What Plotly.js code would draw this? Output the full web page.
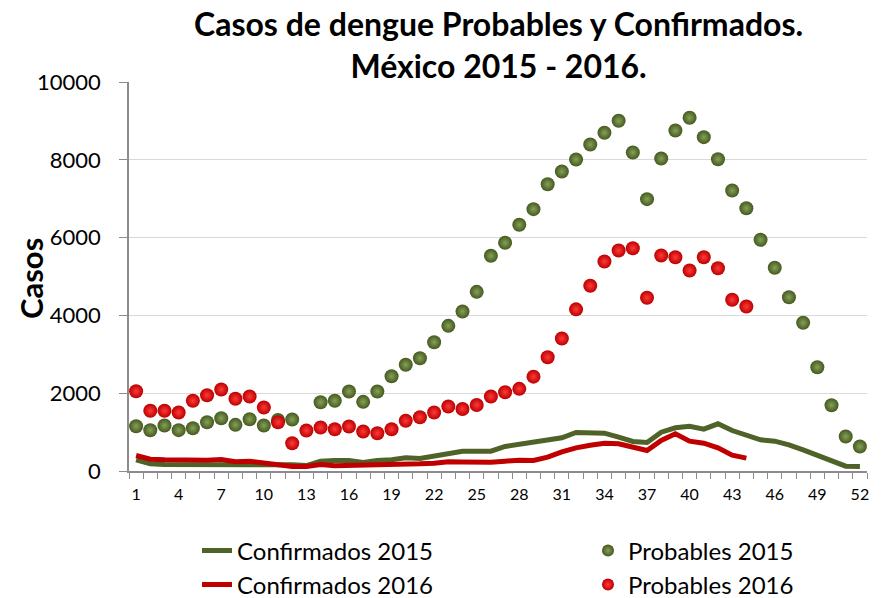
<!DOCTYPE html>
<html>
<head>
<meta charset="utf-8">
<script src="https://cdn.plot.ly/plotly-3.0.1.min.js"></script>
<style>html,body{margin:0;padding:0;background:#fff;}#chart{width:881px;height:598px;}</style>
</head>
<body>
<div id="chart"></div>
<script>
// Semanas epidemiológicas 1..52
const semanas = Array.from({length: 52}, (_, i) => i + 1);
const tickSemanas = [1,4,7,10,13,16,19,22,25,28,31,34,37,40,43,46,49,52];
const tickCasos = [0, 2000, 4000, 6000, 8000, 10000];

const confirmados2015 = [288,185,167,167,160,167,185,176,176,176,185,159,141,252,270,270,218,270,288,339,
  321,373,442,509,505,509,630,681,733,784,853,990,972,972,870,758,733,998,1110,1152,
  1075,1213,1041,938,802,767,673,544,398,270,124,116];

const probables2015 = [1152,1049,1170,1050,1100,1255,1357,1187,1332,1170,1310,1323,null,1769,1804,2044,1778,2044,2437,2730,
  2900,3311,3732,4100,4606,5532,5866,6329,6731,7373,7699,8008,8393,8694,9002,8188,6988,8033,8753,9080,
  8582,8016,7211,6756,5943,5224,4468,3810,2669,1692,887,630];

const confirmados2016 = [398,304,288,279,270,279,296,236,253,210,167,116,116,167,133,141,141,141,159,150,
  185,202,236,230,227,227,253,279,270,356,493,596,664,715,698,596,527,784,955,767,
  715,596,407,330];

const probables2016 = [2050,1547,1547,1504,1804,1949,2095,1856,1915,1632,1255,715,1041,1118,1075,1144,1015,972,1075,1290,
  1383,1504,1658,1595,1697,1915,2026,2112,2425,2926,3406,4156,4761,5386,5668,5728,4452,5540,5496,5154,
  5496,5213,4401,4229];

const titulo1 = 'Casos de dengue Probables y Confirmados.';
const titulo2 = 'México 2015 - 2016.';
const tituloY = 'Casos';

const verde = '#4f6228';
const rojo = '#c00000';
const FONT = 'Lato, Calibri, sans-serif';

const traces = [
  {x: semanas.slice(0, confirmados2015.length), y: confirmados2015, name: 'Confirmados 2015', type: 'scatter', mode: 'lines',
   line: {color: verde, width: 5}, legend: 'legend'},
  {x: semanas.slice(0, probables2015.length), y: probables2015, name: 'Probables 2015', type: 'scatter', mode: 'markers',
   marker: {color: '#45591f', size: 14, line: {width: 0}, gradient: {type: 'radial', color: '#86a058'}}, legend: 'legend2'},
  {x: semanas.slice(0, confirmados2016.length), y: confirmados2016, name: 'Confirmados 2016', type: 'scatter', mode: 'lines',
   line: {color: rojo, width: 5}, legend: 'legend3'},
  {x: semanas.slice(0, probables2016.length), y: probables2016, name: 'Probables 2016', type: 'scatter', mode: 'markers',
   marker: {color: '#bb0000', size: 14, line: {width: 0}, gradient: {type: 'radial', color: '#ff3a3a'}}, legend: 'legend4'}
];

function leg(xpx, ypx) {
  return {x: xpx / 881, xref: 'container', xanchor: 'left', y: 1 - ypx / 598, yref: 'container', yanchor: 'middle',
          font: {size: 24, family: FONT, color: '#000'}, bgcolor: 'rgba(0,0,0,0)', borderwidth: 0,
          itemsizing: 'constant'};
}

const layout = {
  width: 881, height: 598,
  margin: {l: 129, r: 14, t: 82, b: 127, autoexpand: false},
  paper_bgcolor: '#ffffff', plot_bgcolor: '#ffffff',
  font: {family: FONT, color: '#000'},
  xaxis: {
    range: [0.5, 52.5], tickmode: 'array', tickvals: tickSemanas, ticktext: tickSemanas.map(String),
    ticks: '', showgrid: false, zeroline: false, showline: true, linecolor: '#8c8c8c', linewidth: 1.5,
    tickfont: {size: 16}, ticklabelstandoff: 8, automargin: false, tickangle: 0,
    minor: {ticks: 'outside', tickmode: 'linear', tick0: 0.5, dtick: 1, ticklen: 6, tickcolor: '#8c8c8c', tickwidth: 1, showgrid: false}
  },
  yaxis: {
    range: [0, 10000], tickmode: 'array', tickvals: tickCasos, ticktext: tickCasos.map(String),
    ticks: 'outside', ticklen: 8, tickcolor: '#8c8c8c', tickwidth: 1,
    showline: true, linecolor: '#8c8c8c', linewidth: 1.5, zeroline: false,
    gridcolor: '#d9d9d9', gridwidth: 1.2, automargin: false,
    tickfont: {size: 22}, ticklabelstandoff: 14
  },
  annotations: [
    {text: '<b>' + titulo1 + '<br>' + titulo2 + '</b>', xref: 'paper', yref: 'paper', x: 0.5, y: (471 - 44.5) / 389,
     xanchor: 'center', yanchor: 'middle', align: 'center',
     showarrow: false, font: {size: 32, family: FONT, color: '#000'}},
    {text: '<b>' + tituloY + '</b>', xref: 'paper', yref: 'paper', x: (31 - 129) / 738, y: (471 - 279) / 389, xanchor: 'center', yanchor: 'middle',
     textangle: -90, showarrow: false, font: {size: 31, family: FONT, color: '#000'}}
  ],
  showlegend: true,
  legend: leg(197, 551),
  legend2: leg(588, 551),
  legend3: leg(197, 585),
  legend4: leg(588, 585)
};

Plotly.newPlot('chart', traces, layout, {displayModeBar: false, responsive: false});
</script>
</body>
</html>
